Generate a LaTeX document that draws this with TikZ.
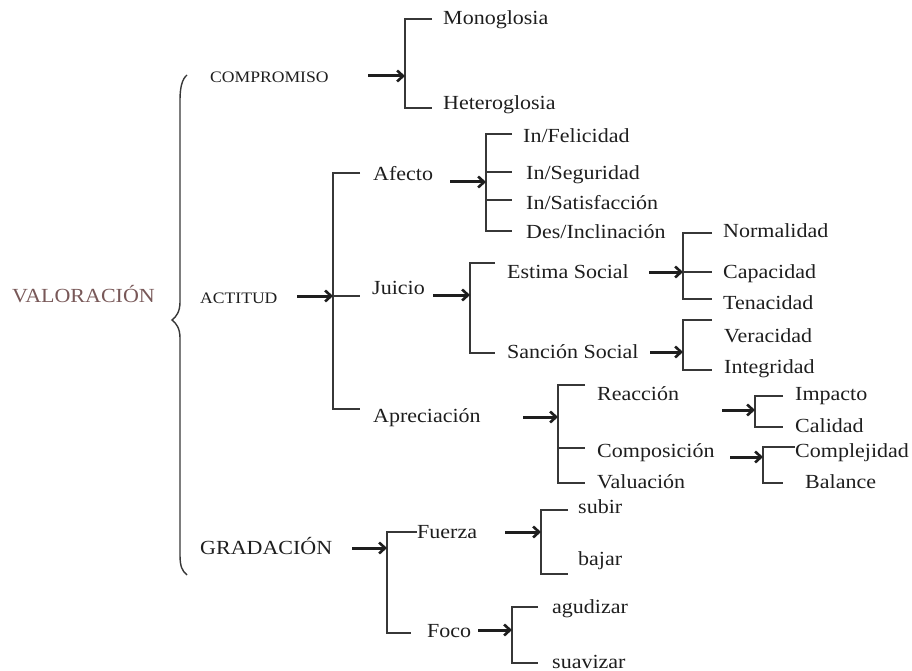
\documentclass[tikz,border=0pt]{standalone}
\usepackage{fontspec}
\setmainfont[FakeStretch=1.1]{Liberation Serif}
\usetikzlibrary{arrows.meta}
\definecolor{valc}{RGB}{120,88,88}
\definecolor{ln}{RGB}{55,55,55}
\definecolor{tx}{RGB}{30,30,30}
\begin{document}
\begin{tikzpicture}[x=1pt,y=-1pt,
  lbl/.style={anchor=base west,inner sep=0pt,font=\fontsize{20}{24}\selectfont,text=tx},
  sm/.style={lbl,font=\fontsize{16}{19}\selectfont},
  brk/.style={draw=ln,line width=1.6pt},
  arr/.style={draw=tx,line width=3pt,-{Straight Barb[length=6pt,width=11pt,line width=2.6pt]}}]
\useasboundingbox (0,0) rectangle (912,671);

% brace
\draw[brk,line width=1.4pt] (187,75) .. controls (182,79) and (180,88) .. (180,100)
  -- (180,302) .. controls (180,312) and (176,317) .. (172,320)
  .. controls (176,323) and (180,328) .. (180,338)
  -- (180,555) .. controls (180,566) and (182,571) .. (187,575);

% top level
\node[lbl,text=valc] (val) at (12,302) {VALORACIÓN};
\node[sm] (comp) at (210,83) {COMPROMISO};
\node[sm] (act) at (200,303) {ACTITUD};
\node[lbl] (grad) at (200,554) {GRADACIÓN};

% compromiso
\node[lbl] (mono) at (443,25) {Monoglosia};
\node[lbl] (hete) at (443,110) {Heteroglosia};
\coordinate (a1) at (368,76); \coordinate (s1) at (405,76);
\draw[brk] (432,19) -| (405,108) -- (432,108);
\draw[arr] (a1) -- (s1);

% actitud
\node[lbl] (afe) at (373,180) {Afecto};
\node[lbl] (jui) at (372,294) {Juicio};
\node[lbl] (apr) at (373,422) {Apreciación};
\coordinate (a2) at (297,296); \coordinate (s2) at (333,296);
\draw[brk] (360,173) -| (333,409) -- (360,409);
\draw[brk] (s2) -- (360,296);
\draw[arr] (a2) -- (s2);

% afecto
\node[lbl] (fel) at (523,143) {In/Felicidad};
\node[lbl] (seg) at (526,179) {In/Seguridad};
\node[lbl] (sat) at (526,209) {In/Satisfacción};
\node[lbl] (inc) at (526,238) {Des/Inclinación};
\coordinate (a3) at (450,182); \coordinate (s3) at (486,182);
\draw[brk] (512,134) -| (486,231) -- (512,231);
\draw[brk] (486,172) -- (512,172);
\draw[brk] (486,200) -- (512,200);
\draw[arr] (a3) -- (s3);

% juicio
\node[lbl] (est) at (507,278) {Estima Social};
\node[lbl] (san) at (507,358) {Sanción Social};
\coordinate (a4) at (433,295); \coordinate (s4) at (470,295);
\draw[brk] (495,263) -| (470,353) -- (495,353);
\draw[arr] (a4) -- (s4);

% estima
\node[lbl] (nor) at (723,237) {Normalidad};
\node[lbl] (cap) at (723,278) {Capacidad};
\node[lbl] (ten) at (723,309) {Tenacidad};
\coordinate (a5) at (649,272); \coordinate (s5) at (683,272);
\draw[brk] (712,233) -| (683,299) -- (712,299);
\draw[brk] (s5) -- (712,272);
\draw[arr] (a5) -- (s5);

% sancion
\node[lbl] (ver) at (724,342) {Veracidad};
\node[lbl] (int) at (724,373) {Integridad};
\coordinate (a6) at (650,352); \coordinate (s6) at (683,352);
\draw[brk] (712,320) -| (683,370) -- (712,370);
\draw[arr] (a6) -- (s6);

% apreciacion
\node[lbl] (rea) at (597,400) {Reacción};
\node[lbl] (com) at (597,457) {Composición};
\node[lbl] (val2) at (597,488) {Valuación};
\coordinate (a7) at (523,417); \coordinate (s7) at (558,417);
\draw[brk] (585,385) -| (558,483) -- (585,483);
\draw[brk] (558,448) -- (585,448);
\draw[arr] (a7) -- (s7);

% reaccion
\node[lbl] (imp) at (795,400) {Impacto};
\node[lbl] (cal) at (795,432) {Calidad};
\coordinate (a8) at (722,410); \coordinate (s8) at (755,410);
\draw[brk] (783,396) -| (755,427) -- (783,427);
\draw[arr] (a8) -- (s8);

% composicion
\node[lbl] (cpj) at (795,457) {Complejidad};
\node[lbl] (bal) at (805,488) {Balance};
\coordinate (a9) at (730,457); \coordinate (s9) at (763,457);
\draw[brk] (cpj.west |- 0,447) -| (763,483) -- (783,483);
\draw[arr] (a9) -- (s9);

% gradacion
\node[lbl] (fue) at (417,538) {Fuerza};
\node[lbl] (foc) at (427,637) {Foco};
\coordinate (a10) at (352,548); \coordinate (s10) at (387,548);
\draw[brk] (fue.west |- 0,532) -| (387,633) -- (411,633);
\draw[arr] (a10) -- (s10);

% fuerza
\node[lbl] (sub) at (578,513) {subir};
\node[lbl] (baj) at (578,565) {bajar};
\coordinate (a11) at (505,532); \coordinate (s11) at (541,532);
\draw[brk] (568,510) -| (541,574) -- (568,574);
\draw[arr] (a11) -- (s11);

% foco
\node[lbl] (agu) at (552,613) {agudizar};
\node[lbl] (sua) at (552,668) {suavizar};
\coordinate (a12) at (478,630); \coordinate (s12) at (512,630);
\draw[brk] (538,607) -| (512,663) -- (538,663);
\draw[arr] (a12) -- (s12);
\end{tikzpicture}
\end{document}
